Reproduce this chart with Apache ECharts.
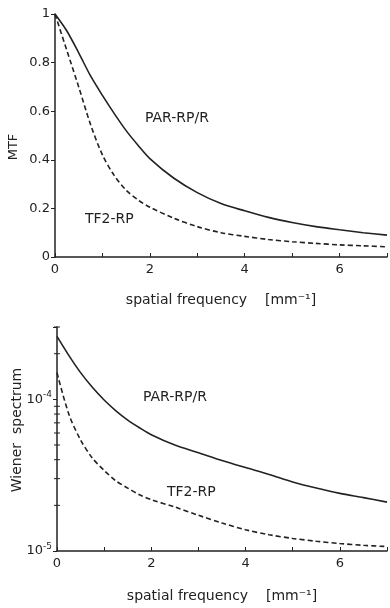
<!DOCTYPE html>
<html>
<head>
<meta charset="utf-8">
<title>MTF and Wiener spectrum</title>
<script src="https://cdn.jsdelivr.net/npm/echarts/dist/echarts.min.js"></script>
<style>
    html, body { margin: 0; padding: 0; background: #fff; }
    #chart { width: 390px; height: 608px; }
</style>
</head>
<body>
<div id="chart"></div>
<script>
// spatial frequency samples [mm^-1]
const freq = [0, 0.25, 0.5, 0.75, 1, 1.25, 1.5, 1.75, 2, 2.5, 3, 3.5, 4, 4.5, 5, 5.5, 6, 6.5, 7];

// MTF curves
const mtfPar = [1.0, 0.93, 0.84, 0.745, 0.665, 0.59, 0.52, 0.46, 0.405, 0.325, 0.265, 0.22, 0.19, 0.163, 0.142, 0.125, 0.112, 0.10, 0.09];
const mtfTf2 = [1.0, 0.85, 0.70, 0.545, 0.42, 0.335, 0.275, 0.235, 0.205, 0.16, 0.125, 0.10, 0.085, 0.072, 0.063, 0.056, 0.05, 0.046, 0.042];

// Wiener spectrum curves (lower panel, log scale)
const wienerPar = [2.6e-4, 1.95e-4, 1.5e-4, 1.2e-4, 9.9e-5, 8.4e-5, 7.3e-5, 6.5e-5, 5.85e-5, 5.0e-5, 4.45e-5, 3.95e-5, 3.55e-5, 3.2e-5, 2.85e-5, 2.6e-5, 2.4e-5, 2.25e-5, 2.1e-5];
const wienerTf2 = [1.5e-4, 8.0e-5, 5.4e-5, 4.1e-5, 3.4e-5, 2.9e-5, 2.6e-5, 2.35e-5, 2.18e-5, 1.95e-5, 1.72e-5, 1.53e-5, 1.38e-5, 1.28e-5, 1.21e-5, 1.16e-5, 1.12e-5, 1.09e-5, 1.07e-5];

// tick labels
const xLabelValues = [0, 2, 4, 6];
const wienerMinorTicks = [2e-5, 3e-5, 4e-5, 5e-5, 6e-5, 7e-5, 8e-5, 9e-5, 2e-4, 3e-4];

const ink = '#222';
const font = 'DejaVu Sans';

const pairs = arr => freq.map((f, i) => [f, arr[i]]);

const xAxisBase = {
    type: 'value',
    min: 0,
    max: 7,
    interval: 1,
    name: 'spatial frequency    [mm⁻¹]',
    nameLocation: 'middle',
    nameGap: 36,
    nameTextStyle: { color: ink, fontFamily: font, fontSize: 14 },
    axisLine: { lineStyle: { color: ink, width: 1.5 } },
    axisTick: { inside: true, length: 4, lineStyle: { color: ink } },
    axisLabel: {
        color: ink,
        fontFamily: font,
        fontSize: 13,
        margin: 6,
        formatter: v => (xLabelValues.indexOf(v) >= 0 ? String(v) : '')
    },
    splitLine: { show: false }
};

const lineSeries = (data, dashed, idx) => ({
    type: 'line',
    xAxisIndex: idx,
    yAxisIndex: idx,
    data: data,
    smooth: 0.3,
    showSymbol: false,
    symbol: 'none',
    lineStyle: { color: ink, width: 1.6, type: dashed ? [5, 3] : 'solid' }
});

const option = {
    backgroundColor: '#fff',
    animation: false,
    grid: [
        { left: 55, top: 14, width: 335, height: 243 },
        { left: 57, top: 327, width: 333, height: 224 }
    ],
    xAxis: [
        Object.assign({ gridIndex: 0 }, xAxisBase),
        Object.assign({ gridIndex: 1 }, xAxisBase, { nameGap: 38 })
    ],
    yAxis: [
        {
            gridIndex: 0,
            type: 'value',
            min: 0,
            max: 1,
            interval: 0.2,
            axisLine: { show: true, lineStyle: { color: ink, width: 1.5 } },
            axisTick: { show: true, length: 4, lineStyle: { color: ink } },
            axisLabel: { color: ink, fontFamily: font, fontSize: 13, margin: 5 },
            splitLine: { show: false }
        },
        {
            gridIndex: 1,
            type: 'log',
            logBase: 10,
            min: 1e-5,
            max: 3e-4,
            axisLine: { show: true, lineStyle: { color: ink, width: 1.5 } },
            axisTick: { show: true, length: 4, lineStyle: { color: ink } },
            axisLabel: {
                color: ink,
                fontFamily: font,
                fontSize: 13,
                margin: 5,
                formatter: v => {
                    const e = Math.log10(v);
                    if (Math.abs(e - Math.round(e)) > 1e-6) {
                        return '';
                    }
                    return '{b|10}{s|' + Math.round(e) + '}';
                },
                rich: {
                    b: { fontFamily: font, fontSize: 13, color: ink },
                    s: { fontFamily: font, fontSize: 9, color: ink, padding: [0, 0, 9, 0] }
                }
            },
            splitLine: { show: false }
        }
    ],
    graphic: [
        { type: 'text', left: 145, top: 111, style: { text: 'PAR-RP/R', fill: ink, font: '14px "DejaVu Sans"' } },
        { type: 'text', left: 85, top: 212, style: { text: 'TF2-RP', fill: ink, font: '14px "DejaVu Sans"' } },
        { type: 'text', left: 143, top: 390, style: { text: 'PAR-RP/R', fill: ink, font: '14px "DejaVu Sans"' } },
        { type: 'text', left: 167, top: 485, style: { text: 'TF2-RP', fill: ink, font: '14px "DejaVu Sans"' } },
        {
            type: 'text', x: 14, y: 147, rotation: Math.PI / 2,
            style: { text: 'MTF', fill: ink, font: '13px "DejaVu Sans"', align: 'center', verticalAlign: 'middle' }
        },
        {
            type: 'text', x: 17, y: 430, rotation: Math.PI / 2,
            style: { text: 'Wiener  spectrum', fill: ink, font: '14px "DejaVu Sans"', align: 'center', verticalAlign: 'middle' }
        }
    ],
    series: [
        lineSeries(pairs(mtfPar), false, 0),
        lineSeries(pairs(mtfTf2), true, 0),
        lineSeries(pairs(wienerPar), false, 1),
        lineSeries(pairs(wienerTf2), true, 1),
        {
            // minor ticks of the log axis at 2..9 x decade
            type: 'custom',
            xAxisIndex: 1,
            yAxisIndex: 1,
            silent: true,
            clip: false,
            data: wienerMinorTicks.map(v => [0, v]),
            renderItem: (params, api) => {
                const p = api.coord([api.value(0), api.value(1)]);
                return {
                    type: 'line',
                    shape: { x1: p[0] - 3, y1: p[1], x2: p[0] + 3, y2: p[1] },
                    style: { stroke: ink, lineWidth: 1 }
                };
            }
        }
    ]
};

const chart = echarts.init(document.getElementById('chart'));
chart.setOption(option);
</script>
</body>
</html>
